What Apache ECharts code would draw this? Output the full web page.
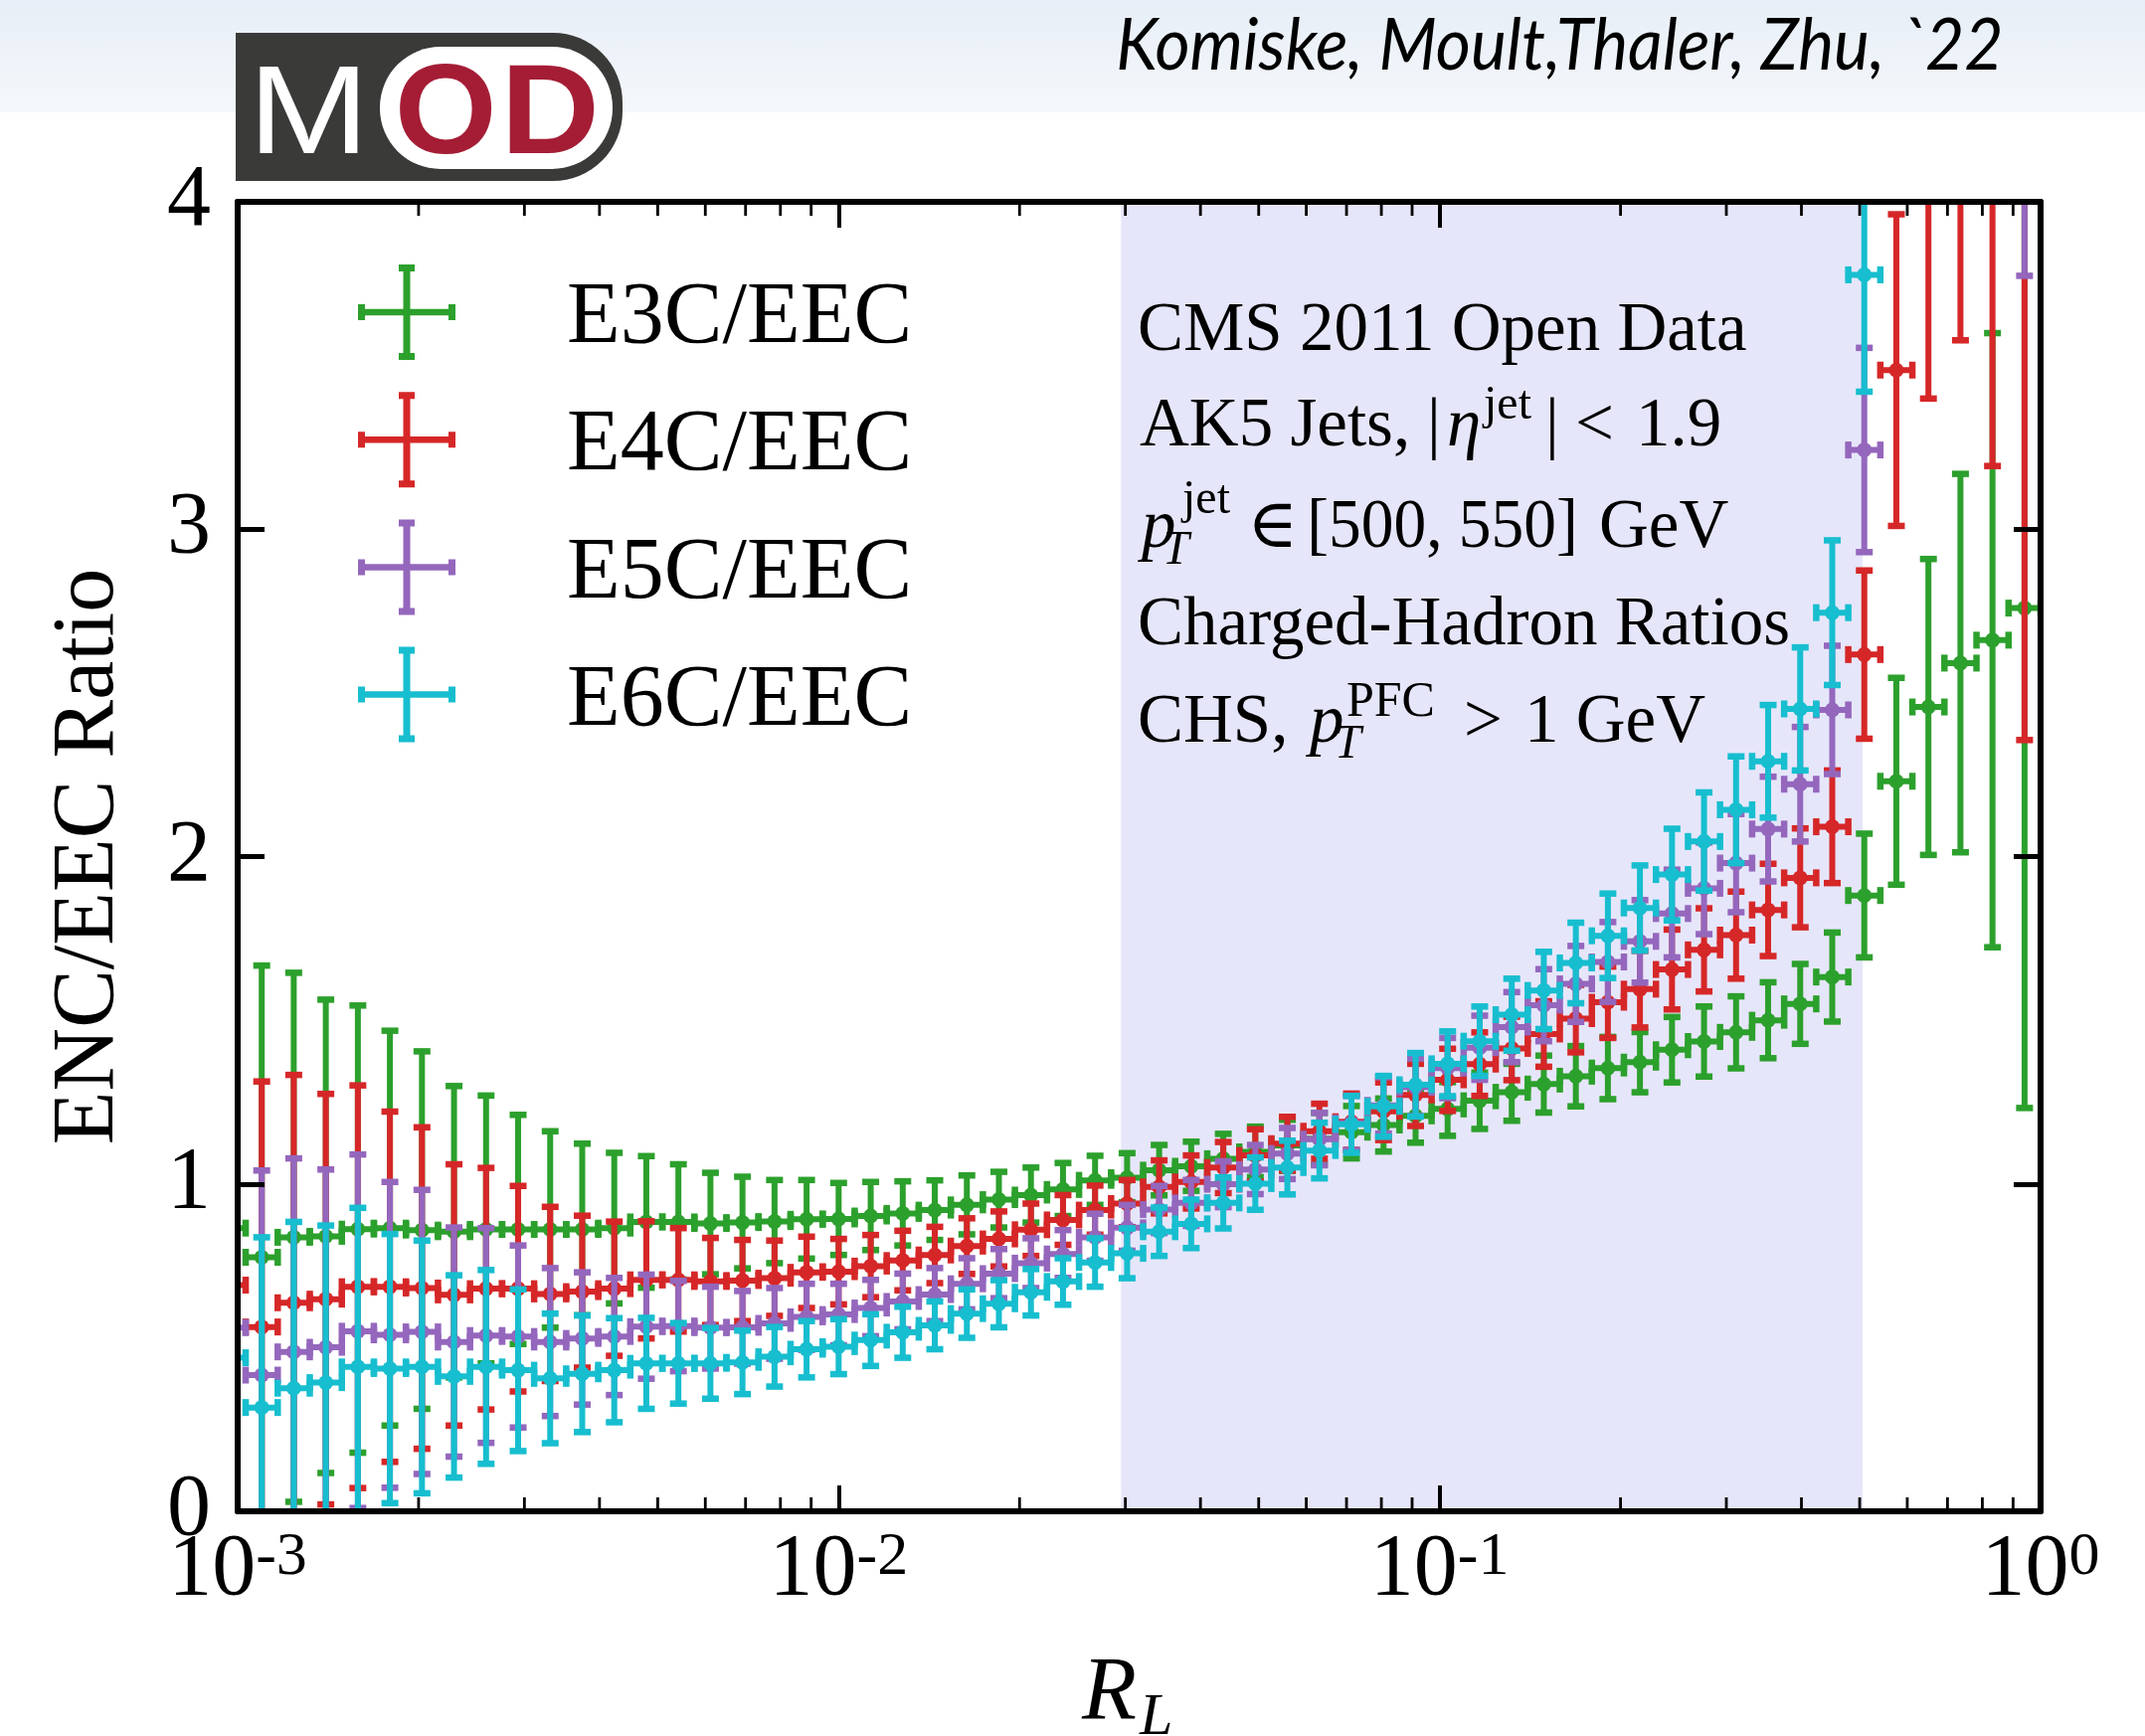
<!DOCTYPE html>
<html>
<head>
<meta charset="utf-8">
<script src="https://cdn.jsdelivr.net/npm/echarts@6/dist/echarts.min.js"></script>
<style>html,body{margin:0;padding:0;background:#fff}#c{width:2157px;height:1746px}</style>
</head>
<body>
<div id="c"></div>
<script>
// ---------------- DATA ----------------
// bin centres R_L (75 log bins between 1e-4 and 1; those visible in [1e-3, 1])
const rL = [0.0009698, 0.0010965, 0.0012397, 0.0014017, 0.0015849, 0.0017919, 0.0020260, 0.0022909, 0.0025902, 0.0029286,
  0.0033113, 0.0037440, 0.0042330, 0.0047863, 0.0054117, 0.0061188, 0.0069183, 0.0078222, 0.0088444, 0.0100000,
  0.011307, 0.012784, 0.014454, 0.016343, 0.018478, 0.020893, 0.023623, 0.026710, 0.030200, 0.034145,
  0.038607, 0.043652, 0.049355, 0.055803, 0.063096, 0.071340, 0.080660, 0.091201, 0.10312, 0.11659,
  0.13183, 0.14905, 0.16853, 0.19055, 0.21544, 0.24359, 0.27542, 0.31140, 0.35209, 0.39811,
  0.45014, 0.50895, 0.57544, 0.65063, 0.73564, 0.83176, 0.94044];
const binHalfWidthDex = 2 / 75;   // half bin width in log10

const e3c = [0.865, 0.776, 0.837, 0.840, 0.862, 0.865, 0.859, 0.854, 0.861, 0.861,
  0.861, 0.861, 0.865, 0.884, 0.884, 0.879, 0.882, 0.885, 0.892, 0.893,
  0.902, 0.910, 0.920, 0.936, 0.952, 0.966, 0.983, 1.011, 1.019, 1.042,
  1.054, 1.077, 1.098, 1.118, 1.138, 1.158, 1.180, 1.208, 1.229, 1.254,
  1.280, 1.305, 1.329, 1.354, 1.372, 1.410, 1.435, 1.463, 1.500, 1.550,
  1.632, 1.881, 2.230, 2.457, 2.591, 2.661, 2.759];
const e3cErr = [0.95, 0.891, 0.808, 0.723, 0.683, 0.603, 0.546, 0.445, 0.409, 0.350,
  0.300, 0.262, 0.230, 0.201, 0.176, 0.155, 0.140, 0.127, 0.120, 0.110,
  0.104, 0.098, 0.091, 0.090, 0.085, 0.084, 0.081, 0.075, 0.075, 0.077,
  0.075, 0.076, 0.077, 0.078, 0.079, 0.080, 0.081, 0.082, 0.082, 0.086,
  0.087, 0.087, 0.092, 0.095, 0.092, 0.100, 0.107, 0.110, 0.116, 0.122,
  0.136, 0.189, 0.316, 0.452, 0.578, 0.938, 1.527];

const e4c = [0.691, 0.563, 0.637, 0.648, 0.686, 0.686, 0.682, 0.661, 0.680, 0.680,
  0.664, 0.671, 0.680, 0.707, 0.707, 0.702, 0.705, 0.712, 0.730, 0.732,
  0.749, 0.766, 0.783, 0.810, 0.832, 0.860, 0.890, 0.920, 0.940, 0.991,
  1.006, 1.050, 1.087, 1.123, 1.161, 1.190, 1.222, 1.272, 1.318, 1.366,
  1.414, 1.458, 1.505, 1.555, 1.595, 1.655, 1.715, 1.760, 1.837, 1.935,
  2.091, 2.617, 3.486, 4.25, 4.45, 4.35, 4.50];
const e4cErr = [0.80, 0.750, 0.696, 0.627, 0.615, 0.535, 0.491, 0.399, 0.369, 0.314,
  0.266, 0.232, 0.205, 0.179, 0.158, 0.133, 0.124, 0.115, 0.109, 0.100,
  0.095, 0.091, 0.086, 0.085, 0.084, 0.080, 0.076, 0.075, 0.072, 0.081,
  0.081, 0.078, 0.080, 0.082, 0.084, 0.086, 0.088, 0.095, 0.095, 0.097,
  0.097, 0.100, 0.103, 0.109, 0.117, 0.122, 0.127, 0.133, 0.141, 0.151,
  0.172, 0.257, 0.476, 0.851, 0.873, 1.157, 2.144];

const e5c = [0.561, 0.416, 0.487, 0.501, 0.550, 0.539, 0.548, 0.517, 0.537, 0.534,
  0.517, 0.528, 0.534, 0.564, 0.566, 0.561, 0.562, 0.574, 0.594, 0.601,
  0.621, 0.641, 0.662, 0.695, 0.726, 0.758, 0.786, 0.837, 0.866, 0.922,
  0.942, 0.999, 1.044, 1.093, 1.137, 1.186, 1.240, 1.295, 1.354, 1.416,
  1.479, 1.546, 1.611, 1.678, 1.741, 1.826, 1.903, 1.980, 2.084, 2.221,
  2.448, 3.242, null, null, null, null, 5.0];
const e5cErr = [0.65, 0.625, 0.591, 0.543, 0.540, 0.467, 0.434, 0.350, 0.328, 0.278,
  0.226, 0.202, 0.179, 0.159, 0.138, 0.125, 0.111, 0.108, 0.101, 0.094,
  0.086, 0.085, 0.081, 0.078, 0.075, 0.076, 0.073, 0.072, 0.070, 0.072,
  0.070, 0.070, 0.075, 0.078, 0.080, 0.083, 0.086, 0.088, 0.092, 0.098,
  0.107, 0.110, 0.116, 0.122, 0.126, 0.134, 0.140, 0.150, 0.160, 0.175,
  0.196, 0.312, null, null, null, null, 1.226];

const e6c = [0.469, 0.317, 0.376, 0.393, 0.441, 0.436, 0.441, 0.412, 0.441, 0.431,
  0.406, 0.420, 0.431, 0.452, 0.452, 0.452, 0.455, 0.472, 0.495, 0.503,
  0.523, 0.547, 0.568, 0.604, 0.634, 0.669, 0.702, 0.760, 0.788, 0.854,
  0.878, 0.942, 1.001, 1.050, 1.102, 1.182, 1.237, 1.303, 1.367, 1.436,
  1.517, 1.591, 1.675, 1.758, 1.843, 1.945, 2.046, 2.143, 2.291, 2.451,
  2.745, 3.777, null, null, null, null, null];
const e6cErr = [0.55, 0.520, 0.508, 0.480, 0.486, 0.411, 0.386, 0.309, 0.296, 0.247,
  0.198, 0.178, 0.159, 0.139, 0.123, 0.108, 0.097, 0.091, 0.086, 0.084,
  0.079, 0.078, 0.073, 0.074, 0.072, 0.071, 0.071, 0.074, 0.076, 0.074,
  0.074, 0.078, 0.080, 0.082, 0.085, 0.087, 0.093, 0.097, 0.099, 0.106,
  0.110, 0.118, 0.123, 0.129, 0.130, 0.140, 0.150, 0.163, 0.172, 0.188,
  0.221, 0.357, null, null, null, null, null];

const seriesNames = ['E3C/EEC', 'E4C/EEC', 'E5C/EEC', 'E6C/EEC'];
const seriesColors = ['#2ca02c', '#d62728', '#9467bd', '#17becf'];
const minorTicks = [0.002, 0.003, 0.004, 0.005, 0.006, 0.007, 0.008, 0.009,
  0.02, 0.03, 0.04, 0.05, 0.06, 0.07, 0.08, 0.09,
  0.2, 0.3, 0.4, 0.5, 0.6, 0.7, 0.8, 0.9];
const shadeRange = [0.0295, 0.506];
const xRange = [0.001, 1];
const yRange = [0, 4];
const yTickStep = 1;

// ---------------- HELPERS ----------------
const F = 'Liberation Serif, DejaVu Serif, serif';
const cv = document.createElement('canvas').getContext('2d');
function meas(str, size, family, style, weight) {
  cv.font = style + ' ' + weight + ' ' + size + 'px ' + family;
  cv.textBaseline = 'alphabetic';
  const a = cv.measureText(str);
  cv.textBaseline = 'middle';
  const b = cv.measureText(str);
  return {abl: a.actualBoundingBoxLeft, abr: a.actualBoundingBoxRight,
          off: a.actualBoundingBoxAscent - b.actualBoundingBoxAscent};
}
function textEl(str, inkLeft, baseline, size, o) {
  o = o || {};
  const family = o.family || F, style = o.italic ? 'italic' : 'normal', weight = o.weight || 'normal';
  const m = meas(str, size, family, style, weight);
  let sx = 1;
  if (o.inkRight != null) sx = (o.inkRight - inkLeft) / (m.abr + m.abl);
  return {type: 'text', x: inkLeft + m.abl * sx, y: baseline - m.off, scaleX: sx, z: o.z || 10, silent: true,
    style: {text: str, fontSize: size, fontFamily: family, fontStyle: style, fontWeight: weight,
            fill: o.color || '#000', align: 'left', verticalAlign: 'middle'}};
}

function makeData(vals, errs) {
  const out = [];
  for (let i = 0; i < rL.length; i++) {
    if (vals[i] == null) continue;
    out.push([rL[i], vals[i], errs[i]]);
  }
  return out;
}

const binFactor = Math.pow(10, binHalfWidthDex);
const LW = 6, CAPL = 17, CAPT = 6.5, RAD = 7.5;
function errRender(color) {
  return function (params, api) {
    const x = api.value(0), y = api.value(1), e = api.value(2);
    const c = api.coord([x, y]);
    const t = api.coord([x, y + e]);
    const b = api.coord([x, y - e]);
    const l = api.coord([x / binFactor, y]);
    const r = api.coord([x * binFactor, y]);
    const st = {fill: color};
    return {type: 'group', children: [
      {type: 'rect', shape: {x: l[0], y: c[1] - LW / 2, width: r[0] - l[0], height: LW}, style: st},
      {type: 'rect', shape: {x: c[0] - LW / 2, y: t[1], width: LW, height: b[1] - t[1]}, style: st},
      {type: 'rect', shape: {x: c[0] - CAPL / 2, y: t[1] - CAPT / 2, width: CAPL, height: CAPT}, style: st},
      {type: 'rect', shape: {x: c[0] - CAPL / 2, y: b[1] - CAPT / 2, width: CAPL, height: CAPT}, style: st},
      {type: 'rect', shape: {x: l[0] - CAPT / 2, y: c[1] - CAPL / 2, width: CAPT, height: CAPL}, style: st},
      {type: 'rect', shape: {x: r[0] - CAPT / 2, y: c[1] - CAPL / 2, width: CAPT, height: CAPL}, style: st},
      {type: 'circle', shape: {cx: c[0], cy: c[1], r: RAD}, style: st}
    ]};
  };
}

function rectPath(x, y, w, h) { return 'M' + x + ' ' + y + 'h' + w + 'v' + h + 'h' + (-w) + 'Z'; }
const legendIcon = 'path://' +
  rectPath(0, 44.75, 98, 6.5) + rectPath(45.5, 0, 7, 96) +
  rectPath(0, 40, 7, 16) + rectPath(91, 40, 7, 16) +
  rectPath(41, 0, 16, 7) + rectPath(41, 89, 16, 7) +
  'M54 48A5 5 0 1 1 44 48A5 5 0 1 1 54 48Z';

const allVals = [e3c, e4c, e5c, e6c], allErrs = [e3cErr, e4cErr, e5cErr, e6cErr];
const series = [];
series.push({
  type: 'custom', name: 'region', silent: true, clip: true, z: 1,
  data: [[shadeRange[0], shadeRange[1], yRange[0], yRange[1]]],
  encode: {x: [0, 1], y: [2, 3]},
  renderItem: function (params, api) {
    const p1 = api.coord([api.value(0), api.value(3)]);
    const p2 = api.coord([api.value(1), api.value(2)]);
    return {type: 'rect', shape: {x: p1[0], y: p1[1], width: p2[0] - p1[0], height: p2[1] - p1[1]},
            style: {fill: '#e6e6fa'}};
  }
});
for (let s = 0; s < 4; s++) {
  series.push({
    type: 'custom', name: seriesNames[s], silent: true, clip: true, z: 2 + s,
    itemStyle: {color: seriesColors[s]},
    data: makeData(allVals[s], allErrs[s]),
    encode: {x: 0, y: 1},
    renderItem: errRender(seriesColors[s])
  });
}
series.push({
  type: 'custom', name: 'minorTicks', silent: true, clip: false, z: 30,
  data: minorTicks.map(v => [v, yRange[0]]),
  encode: {x: 0, y: 1},
  renderItem: function (params, api) {
    const v = api.value(0);
    const pb = api.coord([v, yRange[0]]);
    const pt = api.coord([v, yRange[1]]);
    return {type: 'group', children: [
      {type: 'rect', shape: {x: pb[0] - 1.4, y: pb[1] - 14, width: 2.8, height: 14}, style: {fill: '#000'}},
      {type: 'rect', shape: {x: pt[0] - 1.4, y: pt[1], width: 2.8, height: 14}, style: {fill: '#000'}}
    ]};
  }
});

const axisLine = {show: true, onZero: false, lineStyle: {color: '#000', width: 6}};
const xLabelRich = {
  b: {fontSize: 88, fontFamily: F, color: '#000', lineHeight: 100, verticalAlign: 'top'},
  s: {fontSize: 62, fontFamily: F, color: '#000', lineHeight: 53, verticalAlign: 'top'}
};

// header / annotation graphics
const G = [];
G.push({type: 'rect', silent: true, z: -5, shape: {x: 0, y: 0, width: 2157, height: 113},
  style: {fill: new echarts.graphic.LinearGradient(0, 0, 0, 1, [{offset: 0, color: '#e7eef7'}, {offset: 1, color: '#f5f8fb'}])}});
G.push({type: 'rect', silent: true, z: 1, shape: {x: 237, y: 33, width: 389, height: 149, r: [0, 70, 70, 0]},
  style: {fill: '#3a3b38'}});
G.push({type: 'rect', silent: true, z: 2, shape: {x: 382, y: 47, width: 234, height: 123, r: 61},
  style: {fill: '#ffffff'}});
G.push(textEl('M', 261, 154, 127, {family: 'Liberation Sans, Arial, sans-serif', inkRight: 360, color: '#ffffff', z: 3}));
G.push(textEl('O', 402, 154, 128, {family: 'Liberation Sans, Arial, sans-serif', weight: 'bold', inkRight: 495, color: '#a41d35', z: 3}));
G.push(textEl('D', 512, 154, 128, {family: 'Liberation Sans, Arial, sans-serif', weight: 'bold', inkRight: 598, color: '#a41d35', z: 3}));
G.push(textEl('Komiske, Moult,Thaler, Zhu, `22', 1125, 70, 72, {family: 'Lato, Open Sans, sans-serif', italic: true, inkRight: 2011}));

// x-axis title  R_L
G.push(textEl('R', 1087, 1729, 90, {italic: true, z: 40}));
G.push(textEl('L', 1145, 1744, 60, {italic: true, z: 40}));

const INFO = [
  ['CMS 2011 Open Data', 1146, 352, 69, 0],
  ['AK5 Jets,', 1146, 448, 69, 0],
  ['|', 1440, 448, 69, 0],
  ['η', 1457, 448, 69, 1],
  ['jet', 1490, 421, 48, 0],
  ['|', 1559, 448, 69, 0],
  ['<', 1587, 448, 69, 0],
  ['1.9', 1651, 448, 69, 0],
  ['p', 1143, 550, 69, 1],
  ['jet', 1187, 516, 48, 0],
  ['T', 1172, 567, 48, 1],
  ['∈', 1261, 550, 69, 0],
  ['[500, 550]', 1319, 550, 69, 0, 1582],
  ['GeV', 1610, 550, 69, 0],
  ['Charged-Hadron Ratios', 1146, 648, 69, 0],
  ['CHS,', 1146, 746, 69, 0],
  ['p', 1312, 746, 69, 1],
  ['PFC', 1355, 720, 50, 0],
  ['T', 1345, 762, 48, 1],
  ['>', 1475, 746, 69, 0],
  ['1 GeV', 1539, 746, 69, 0]
];
INFO.forEach(d => G.push(textEl(d[0], d[1], d[2], d[3], {italic: !!d[4], z: 40, inkRight: d[5]})));

const option = {
  animation: false,
  backgroundColor: '#ffffff',
  grid: {left: 239, right: 105, top: 203, bottom: 226, containLabel: false, outerBoundsMode: 'none'},
  legend: {
    show: true, orient: 'vertical', left: 360, top: 263, padding: 0,
    itemWidth: 98, itemHeight: 96, itemGap: 26.2, selectedMode: false,
    data: seriesNames.map(n => ({name: n, icon: legendIcon})),
    formatter: '{t|{name}}',
    textStyle: {color: '#000', rich: {t: {fontSize: 88, fontFamily: F, color: '#000', lineHeight: 96, padding: [14, 0, 0, 107]}}}
  },
  xAxis: [
    {type: 'log', logBase: 10, min: xRange[0], max: xRange[1], position: 'bottom', z: 20,
     axisLine: axisLine,
     axisTick: {show: true, inside: true, length: 26, lineStyle: {color: '#000', width: 4}},
     minorTick: {show: false}, splitLine: {show: false}, minorSplitLine: {show: false},
     axisLabel: {show: true, margin: 16, showMinLabel: true, showMaxLabel: true,
       formatter: function (v) { return '{b|10}{s|' + Math.round(Math.log10(v)) + '}'; }, rich: xLabelRich}},
    {type: 'log', logBase: 10, min: xRange[0], max: xRange[1], position: 'top', z: 20,
     axisLine: axisLine,
     axisTick: {show: true, inside: true, length: 26, lineStyle: {color: '#000', width: 4}},
     axisLabel: {show: false}, splitLine: {show: false}}
  ],
  yAxis: [
    {type: 'value', min: yRange[0], max: yRange[1], interval: yTickStep, position: 'left', z: 20,
     axisLine: axisLine,
     axisTick: {show: true, inside: true, length: 27, lineStyle: {color: '#000', width: 5}},
     splitLine: {show: false},
     axisLabel: {show: true, fontSize: 88, fontFamily: F, color: '#000', margin: 27},
     name: 'ENC/EEC Ratio', nameLocation: 'middle', nameGap: 105, nameRotate: 90,
     nameTextStyle: {fontSize: 88, fontFamily: F, color: '#000', lineHeight: 88}},
    {type: 'value', min: yRange[0], max: yRange[1], interval: yTickStep, position: 'right', z: 20,
     axisLine: axisLine,
     axisTick: {show: true, inside: true, length: 27, lineStyle: {color: '#000', width: 5}},
     splitLine: {show: false}, axisLabel: {show: false}}
  ],
  series: series,
  graphic: {elements: G}
};

const chart = echarts.init(document.getElementById('c'), null, {renderer: 'canvas', width: 2157, height: 1746});
chart.setOption(option);
</script>
</body>
</html>
